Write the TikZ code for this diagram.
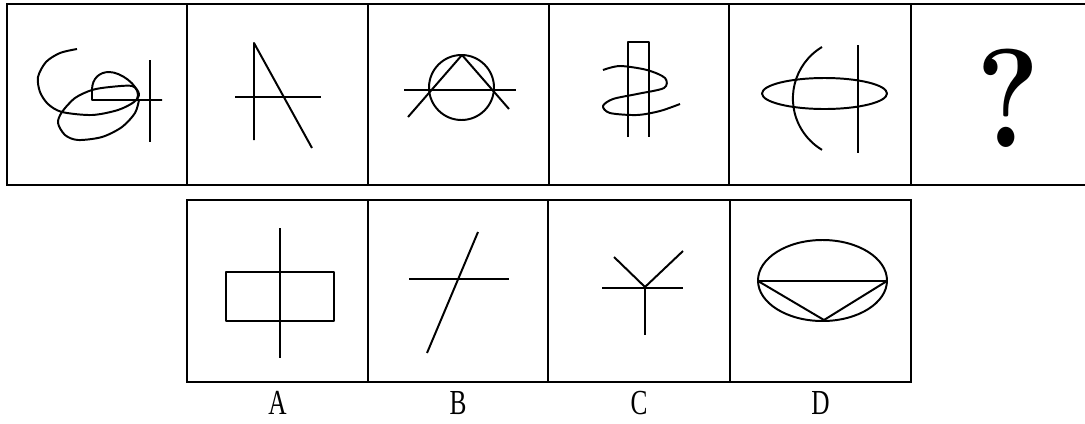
\documentclass[tikz,border=0pt]{standalone}
\usepackage{fontspec}
\newfontfamily\labfont{Liberation Serif}
\begin{document}
\begin{tikzpicture}[x=0.025cm, y=-0.025cm,
    cell/.style={draw, line width=1.5pt},
    fig/.style={line width=1.4pt, line join=round},
    opt/.style={font=\labfont\fontsize{25}{25}\selectfont}]
    \useasboundingbox (0,0) rectangle (1085,423);
    \foreach \a/\b in {7/187,187/368,368/549,549/729,729/911,911/1095}
        \draw [cell] (\a,4) rectangle (\b,185);
    \foreach \a/\b/\l in {187/368/A,368/548/B,548/730/C,730/911/D} {
        \draw [cell] (\a,200) rectangle (\b,382);
        \node [opt] (lab\l) at ({(\a+\b)/2},403) {\scalebox{0.72}[1]{\l}};
    }
    \draw [fig] plot [smooth] coordinates {(77,49) (60,53) (46,62) (38,77) (40,92) (48,104) (62,112) (92,115) (118,110) (134,102) (139,94) (132,86) (110,87) (92,90) (75,98) (62,112) (58,123) (65,135) (78,140) (102,137) (122,127) (135,113) (139,100)};
    \draw [fig] (162,100) -- (92,100) -- (92,90) .. controls (92,78) and (100,72) .. (109,72) .. controls (121,72) and (138,85) .. (138,95) -- (137,100);
    \draw [fig] (150,60) -- (150,142);
    \draw [fig] (254,140) -- (254,43) -- (312,148);
    \draw [fig] (235,97) -- (321,97);
    \draw [fig] (461.5,87.5) circle [radius=32.5];
    \draw [fig] (404,90) -- (516,90);
    \draw [fig] (408,117) -- (462,55) -- (509,109);
    \draw [fig] (628,137) -- (628,42) -- (649,42) -- (649,137);
    \draw [fig] plot [smooth] coordinates {(603,70) (620,66) (647,70) (665,78) (664,88) (637,94) (613,99) (603,106) (610,113) (637,115) (660,111) (680,104)};
    \draw [fig] (824.5,93.5) ellipse [x radius=62.5, y radius=15.5];
    \draw [fig] (858,45) -- (858,153);
    \draw [fig] (822,47) arc [start angle=239, end angle=121, radius=60];
    \node [font=\fontsize{100}{100}\selectfont\bfseries] (qmark) at (1008,98) {\scalebox{0.85}[1]{?}};
    \draw [fig] (226,272) rectangle (334,321);
    \draw [fig] (280,228) -- (280,358);
    \draw [fig] (409,279) -- (509,279);
    \draw [fig] (478,232) -- (427,353);
    \draw [fig] (602,288) -- (683,288);
    \draw [fig] (614,257) -- (645,287) -- (683,251);
    \draw [fig] (645,287) -- (645,335);
    \draw [fig] (822.5,280.5) ellipse [x radius=64.5, y radius=40.5];
    \draw [fig] (758,281) -- (887,281) -- (824,320) -- cycle;
\end{tikzpicture}
\end{document}
